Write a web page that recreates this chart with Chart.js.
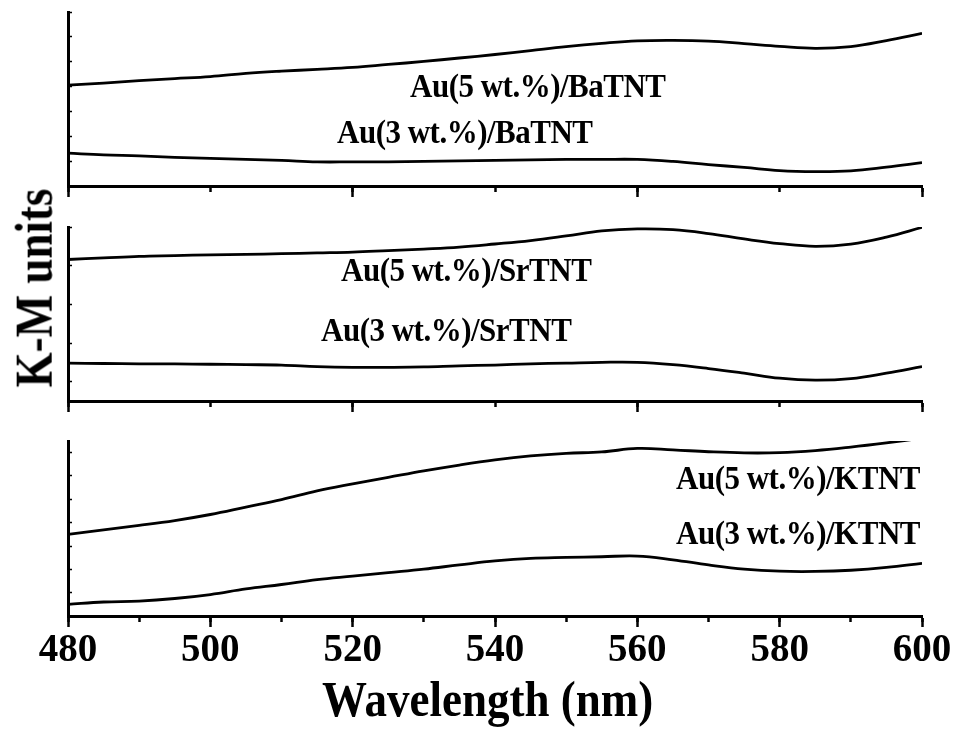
<!DOCTYPE html>
<html>
<head>
<meta charset="utf-8">
<script src="https://cdn.jsdelivr.net/npm/chart.js@4"></script>
<style>
  body { margin: 0; background: #fff; }
  #wrap {
    position: relative; width: 956px; height: 731px; overflow: hidden; background: #fff;
    font-family: "Liberation Serif", "Times New Roman", serif; font-weight: bold; color: #000;
  }
  #wrap canvas { position: absolute; left: 0; }
  .lbl {
    position: absolute; font-size: 31px; line-height: 1; letter-spacing: -0.5px; white-space: nowrap;
    transform-origin: 0 50%; transform: scaleY(1.1);
  }
  .title { position: absolute; font-size: 45px; line-height: 1; white-space: nowrap; }
</style>
</head>
<body>
<div id="wrap">
  <canvas id="panelBa" width="956" height="210" style="top:0px"></canvas>
  <canvas id="panelSr" width="956" height="210" style="top:215px"></canvas>
  <canvas id="panelK" width="956" height="302" style="top:429px"></canvas>

  <div class="lbl" style="left:410px; top:70px">Au(5 wt.%)/BaTNT</div>
  <div class="lbl" style="left:337px; top:116px">Au(3 wt.%)/BaTNT</div>
  <div class="lbl" style="left:341px; top:254px">Au(5 wt.%)/SrTNT</div>
  <div class="lbl" style="left:321px; top:314px">Au(3 wt.%)/SrTNT</div>
  <div class="lbl" style="left:676px; top:462px">Au(5 wt.%)/KTNT</div>
  <div class="lbl" style="left:676px; top:517px">Au(3 wt.%)/KTNT</div>

  <div class="title" style="left:322px; top:677px; transform-origin: 0 50%; transform: scaleY(1.12)">Wavelength (nm)</div>
  <div class="title" style="left:35px; top:288px; transform: translate(-50%, -50%) rotate(-90deg) scaleY(1.15)">K-M units</div>
</div>

<script>
// wavelength grid (nm)
const wavelength = [480, 485, 490, 495, 500, 505, 510, 515, 520, 525, 530, 535, 540,
                    545, 550, 555, 560, 565, 570, 575, 580, 585, 590, 595, 600];

// K-M units, arbitrary
const baTNT5 = [4.06, 4.14, 4.24, 4.32, 4.40, 4.53, 4.62, 4.69, 4.77, 4.89, 5.01, 5.15, 5.29,
                5.45, 5.61, 5.74, 5.84, 5.86, 5.83, 5.73, 5.62, 5.54, 5.61, 5.85, 6.14];
const baTNT3 = [1.32, 1.25, 1.21, 1.15, 1.11, 1.07, 1.03, 0.97, 0.97, 0.97, 0.99, 1.01, 1.03,
                1.05, 1.07, 1.07, 1.07, 0.99, 0.86, 0.75, 0.62, 0.58, 0.61, 0.76, 0.94];

const srTNT5 = [3.16, 3.20, 3.24, 3.26, 3.28, 3.29, 3.31, 3.33, 3.35, 3.39, 3.43, 3.48, 3.56,
                3.65, 3.77, 3.90, 3.95, 3.93, 3.83, 3.69, 3.57, 3.50, 3.56, 3.74, 3.99];
const srTNT3 = [0.48, 0.47, 0.46, 0.46, 0.45, 0.44, 0.43, 0.39, 0.37, 0.37, 0.38, 0.41, 0.43,
                0.46, 0.48, 0.50, 0.50, 0.44, 0.34, 0.22, 0.09, 0.04, 0.08, 0.22, 0.39];

const kTNT5 = [3.50, 3.69, 3.88, 4.09, 4.35, 4.67, 4.99, 5.36, 5.66, 5.94, 6.22, 6.47, 6.69,
               6.86, 6.97, 7.03, 7.18, 7.12, 7.04, 6.99, 7.00, 7.09, 7.24, 7.42, 7.62];
const kTNT3 = [0.50, 0.60, 0.64, 0.75, 0.92, 1.16, 1.35, 1.56, 1.71, 1.86, 2.01, 2.19, 2.36,
               2.47, 2.51, 2.54, 2.57, 2.41, 2.19, 2.01, 1.92, 1.91, 1.96, 2.08, 2.26];

const X_MIN = 480;
const X_MAX = 600;

function toPoints(values) {
  return values.map((v, i) => ({ x: wavelength[i], y: v }));
}

function lineSet(values) {
  return {
    data: toPoints(values),
    borderColor: "#000",
    borderWidth: 2.8,
    pointRadius: 0,
    tension: 0.4,
    fill: false,
  };
}

// one stacked panel, chart area always 68..922 px wide
function makePanel(id, series, yMin, yMax, bottomPanel) {
  const canvas = document.getElementById(id);
  const areaH = bottomPanel ? 175 : 174;
  const axisH = canvas.height - 12 - areaH;

  return new Chart(canvas.getContext("2d"), {
    type: "line",
    data: { datasets: series.map(lineSet) },
    options: {
      responsive: false,
      animation: false,
      devicePixelRatio: 1,
      layout: { padding: { top: 12, right: 34, left: 0, bottom: 0 } },
      plugins: { legend: { display: false }, tooltip: { enabled: false } },
      scales: {
        // short ticks, sits on the same line as the main axis
        xMinor: {
          type: "linear",
          position: "bottom",
          weight: 0,
          min: X_MIN,
          max: X_MAX,
          border: { display: true, color: "#000", width: 3 },
          grid: { drawOnChartArea: false, tickLength: 6, tickWidth: 2.5, tickColor: "#000" },
          ticks: { display: false, stepSize: bottomPanel ? 10 : 20 },
          afterFit: (s) => { s.height = 0; s.paddingLeft = 0; s.paddingRight = 0; },
        },
        x: {
          type: "linear",
          position: "bottom",
          weight: 1,
          min: X_MIN,
          max: X_MAX,
          border: { display: true, color: "#000", width: 3 },
          grid: { drawOnChartArea: false, tickLength: 11, tickWidth: 2.5, tickColor: "#000" },
          ticks: {
            display: bottomPanel,
            stepSize: bottomPanel ? 20 : 40,
            color: "#000",
            padding: 1,
            maxRotation: 0,
            autoSkip: false,
            font: { family: "Liberation Serif", size: 39, weight: "bold" },
          },
          afterFit: (s) => { s.height = axisH; s.paddingLeft = 0; s.paddingRight = 0; },
        },
        y: {
          type: "linear",
          min: yMin,
          max: yMax,
          border: { display: true, color: "#000", width: 3 },
          grid: { drawOnChartArea: false, tickLength: -4, tickWidth: 1.5, tickColor: "#000" },
          ticks: { display: false, stepSize: 1, includeBounds: false },
          afterFit: (s) => { s.width = 68; },
        },
      },
    },
  });
}

makePanel("panelBa", [baTNT5, baTNT3], 0, 7, false);
makePanel("panelSr", [srTNT5, srTNT3], -0.5, 4, false);
makePanel("panelK", [kTNT5, kTNT3], 0, 7.5, true);
</script>
</body>
</html>
